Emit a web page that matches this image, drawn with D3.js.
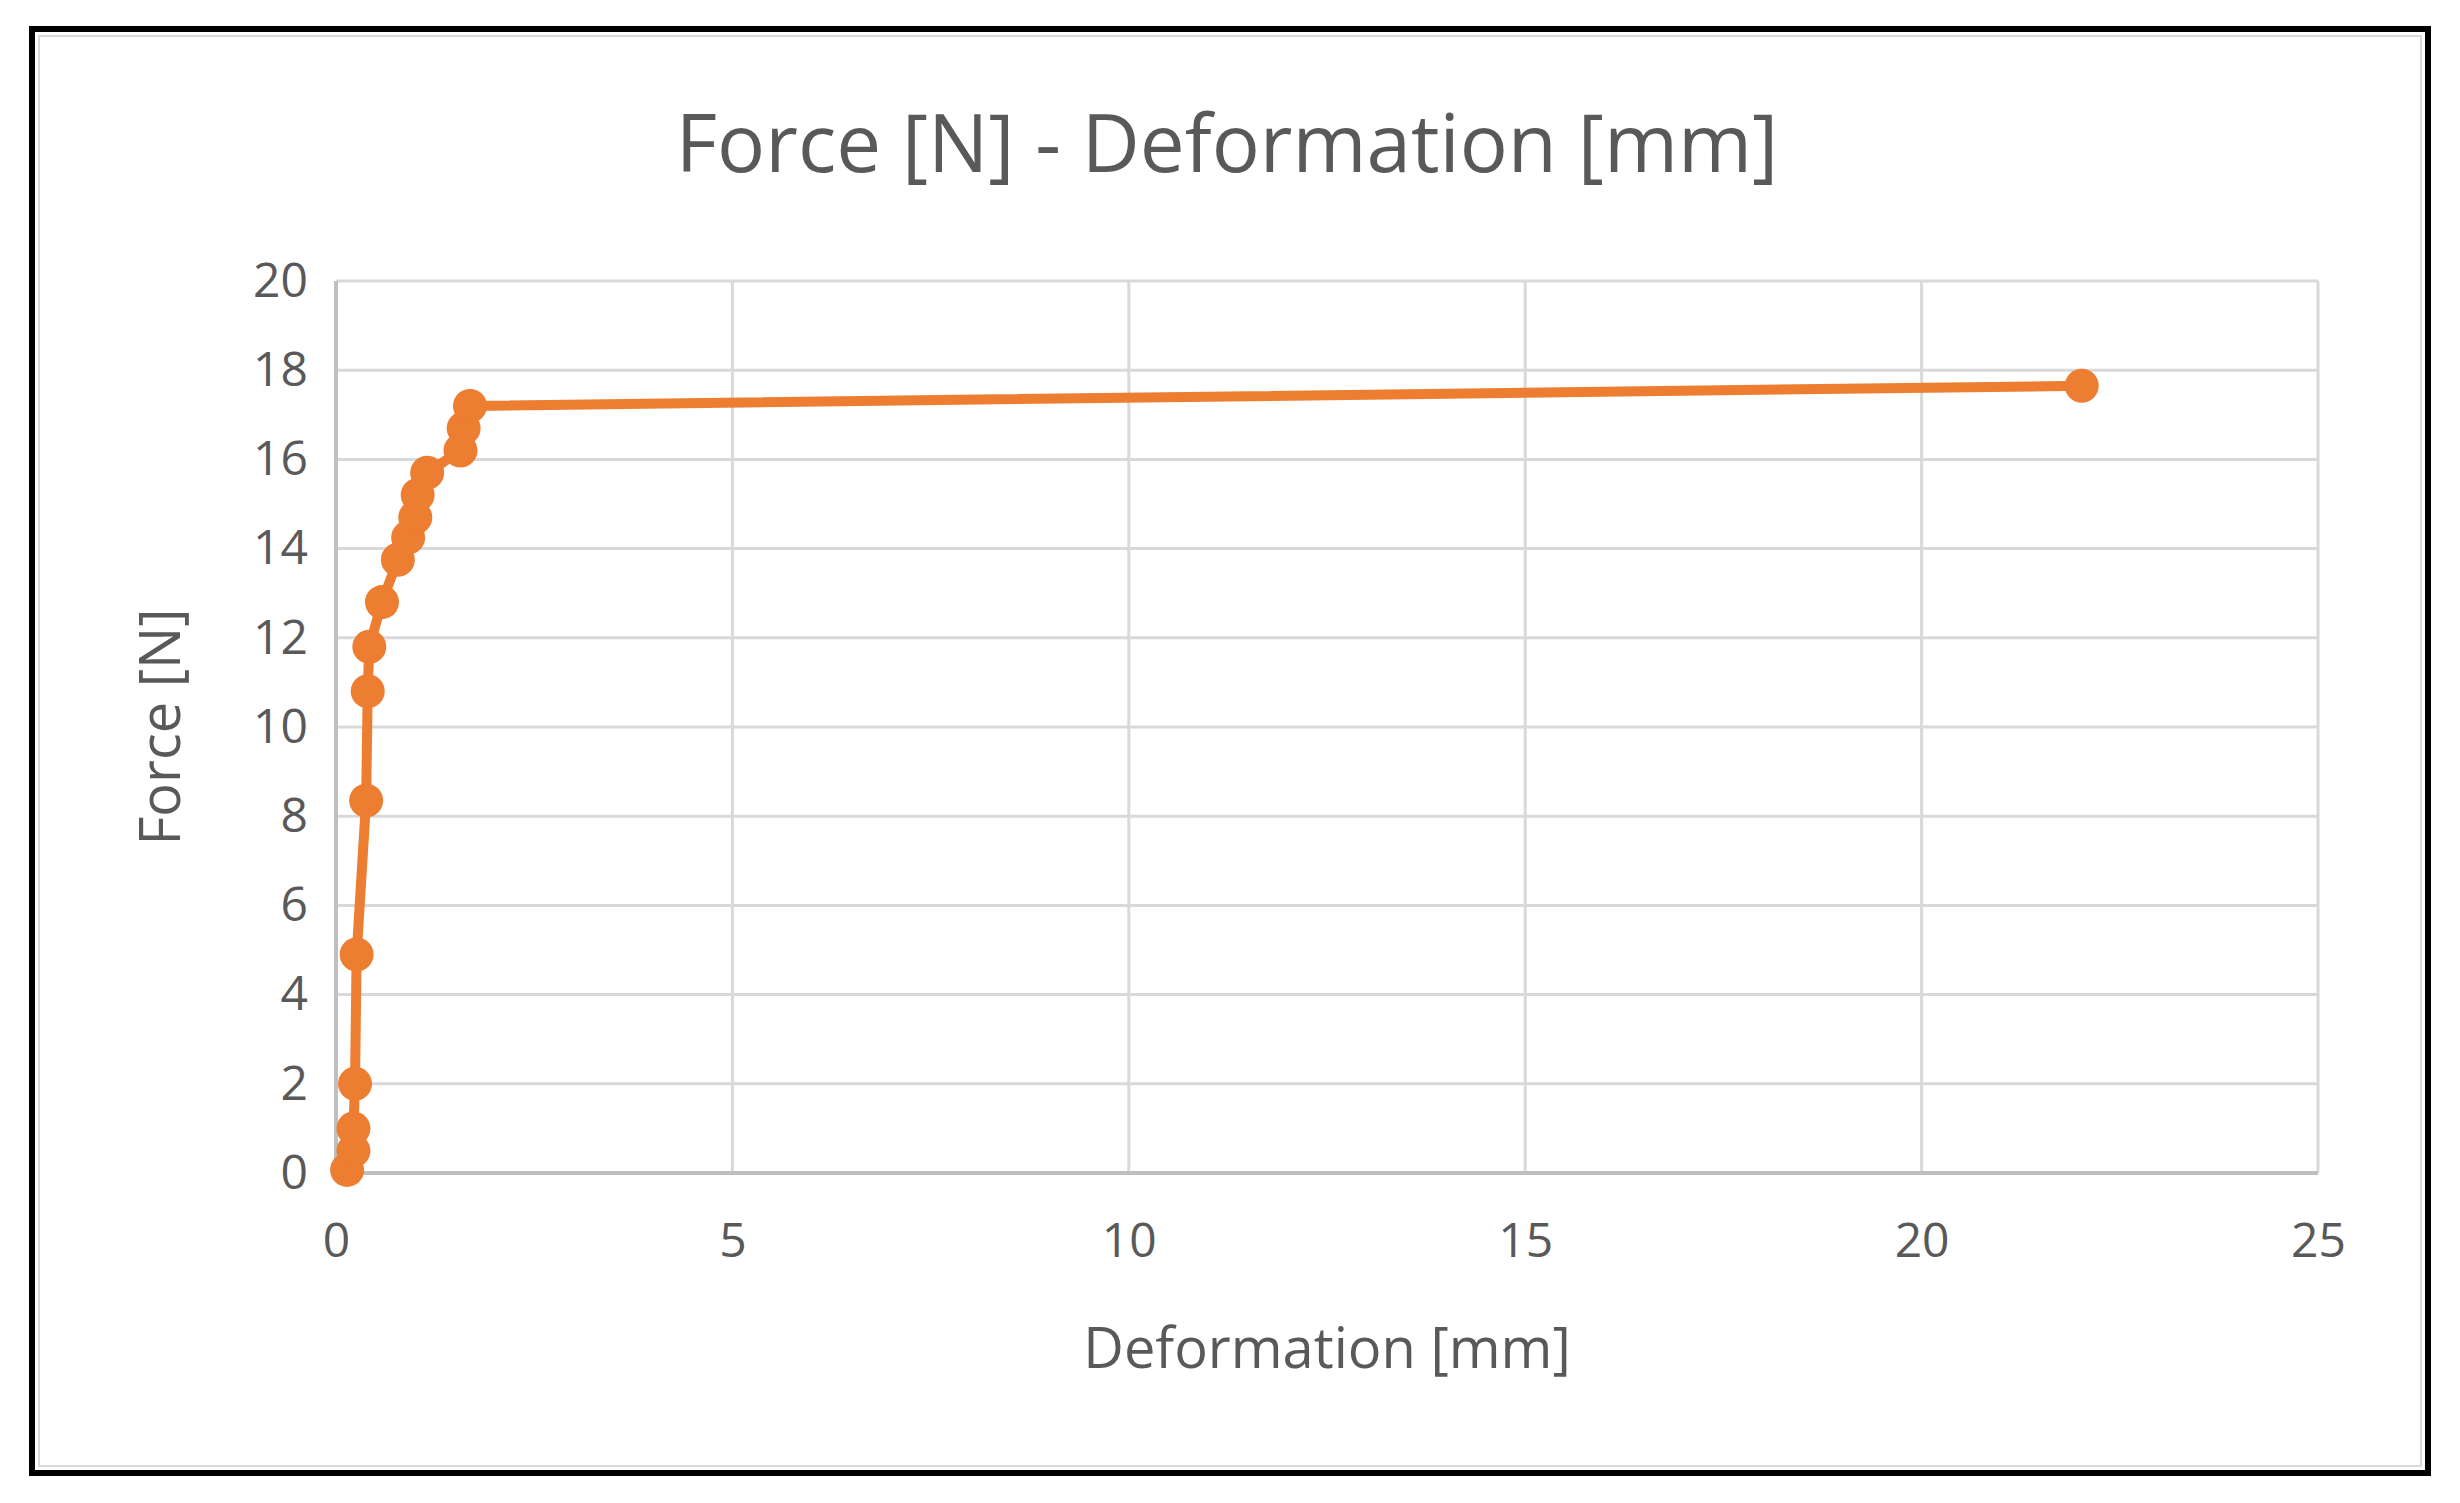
<!DOCTYPE html>
<html><head><meta charset="utf-8">
<script src="https://cdn.jsdelivr.net/npm/d3@7"></script>
<style>body{margin:0;background:#fff}svg{display:block}</style>
</head><body>
<script>
const deformation = [0.14,0.22,0.22,0.24,0.26,0.38,0.40,0.42,0.58,0.78,0.91,1.00,1.03,1.15,1.57,1.61,1.69,22.02];
const force =       [0.07,0.50,1.00,2.00,4.90,8.35,10.8,11.8,12.8,13.75,14.25,14.7,15.2,15.7,16.2,16.7,17.2,17.65];
const xTicks = [0,5,10,15,20,25];
const yTicks = [0,2,4,6,8,10,12,14,16,18,20];
const title = "Force [N] - Deformation [mm]";
const xTitle = "Deformation [mm]";
const yTitle = "Force [N]";

const W=2460,H=1503, font="'Open Sans', sans-serif", grey="#595959", col="#ed7d31";
const svg=d3.select("body").append("svg").attr("width",W).attr("height",H);
svg.append("rect").attr("x",32).attr("y",29).attr("width",2396).attr("height",1444).attr("fill","#fff").attr("stroke","#000").attr("stroke-width",6);
svg.append("rect").attr("x",39).attr("y",36).attr("width",2382).attr("height",1430).attr("fill","none").attr("stroke","#d9d9d9").attr("stroke-width",2);

const L=336,R=2318,T=281,B=1173;
const x=d3.scaleLinear().domain([0,25]).range([L,R]);
const y=d3.scaleLinear().domain([0,20]).range([B,T]);

const g=svg.append("g");
g.selectAll(".gy").data(yTicks).join("line").attr("x1",L).attr("x2",R).attr("y1",d=>y(d)).attr("y2",d=>y(d)).attr("stroke","#d9d9d9").attr("stroke-width",3);
g.selectAll(".gx").data(xTicks).join("line").attr("y1",T).attr("y2",B).attr("x1",d=>x(d)).attr("x2",d=>x(d)).attr("stroke","#d9d9d9").attr("stroke-width",3);
g.append("line").attr("x1",L).attr("x2",R).attr("y1",B).attr("y2",B).attr("stroke","#bfbfbf").attr("stroke-width",4);
g.append("line").attr("x1",L).attr("x2",L).attr("y1",T).attr("y2",B).attr("stroke","#bfbfbf").attr("stroke-width",4);

const xa=svg.append("g").attr("transform",`translate(0,${B})`).call(d3.axisBottom(x).tickValues(xTicks).tickSize(0).tickPadding(50));
const ya=svg.append("g").attr("transform",`translate(${L},0)`).call(d3.axisLeft(y).tickValues(yTicks).tickSize(0).tickPadding(28));
[xa,ya].forEach(a=>{a.select(".domain").remove();a.selectAll("text").attr("font-family",font).attr("font-size",48).attr("fill",grey);});

const pts=deformation.map((d,i)=>[d,force[i]]);
svg.append("path").datum(pts).attr("d",d3.line().x(d=>x(d[0])).y(d=>y(d[1]))).attr("fill","none").attr("stroke",col).attr("stroke-width",10).attr("stroke-linejoin","round");
svg.selectAll(".pt").data(pts).join("circle").attr("cx",d=>x(d[0])).attr("cy",d=>y(d[1])).attr("r",17).attr("fill",col);

svg.append("text").attr("x",1227).attr("y",172).attr("text-anchor","middle").attr("font-family",font).attr("font-size",80).attr("fill",grey).text(title);
svg.append("text").attr("x",1327).attr("y",1368).attr("text-anchor","middle").attr("font-family",font).attr("font-size",56).attr("fill",grey).text(xTitle);
svg.append("text").attr("transform",`translate(180,${(T+B)/2}) rotate(-90)`).attr("text-anchor","middle").attr("font-family",font).attr("font-size",56).attr("fill",grey).text(yTitle);
</script>
</body></html>
